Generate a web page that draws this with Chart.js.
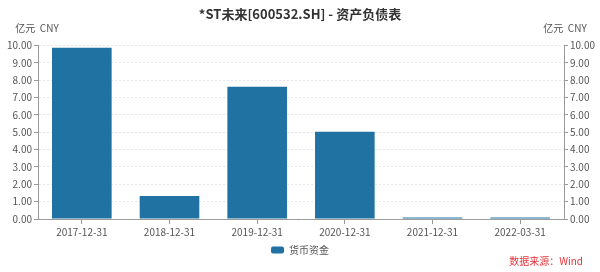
<!DOCTYPE html>
<html>
<head>
<meta charset="utf-8">
<script src="https://cdn.jsdelivr.net/npm/chart.js@4.4.0/dist/chart.umd.min.js"></script>
<style>
  html, body { margin: 0; padding: 0; background: #fff; }
  #wrap { width: 600px; height: 272px; }
</style>
</head>
<body>
<div id="wrap"><canvas id="chart"></canvas></div>
<script>
// data
const categories = ["2017-12-31", "2018-12-31", "2019-12-31", "2020-12-31", "2021-12-31", "2022-03-31"];
const cashValues = [9.88, 1.33, 7.63, 5.03, 0.08, 0.08];
const seriesName = "货币资金";
const yTicks = [0, 1, 2, 3, 4, 5, 6, 7, 8, 9, 10];

const FONT = "'Noto Sans CJK SC', 'Noto Sans', sans-serif";
const barColor = "#1f72a1";
const axisColor = "#9a9a9a";

// unit labels above both axes + data source at the bottom right
const extraText = {
  id: "extraText",
  afterDraw(chart) {
    const ctx = chart.ctx;
    const area = chart.chartArea;
    ctx.save();
    ctx.font = "10px " + FONT;
    ctx.fillStyle = "#555";
    ctx.textBaseline = "middle";
    ctx.textAlign = "center";
    ctx.fillText("亿元  CNY", area.left - 1, area.top - 17);
    ctx.fillText("亿元  CNY", area.right + 1, area.top - 17);
    ctx.fillStyle = "#e8333a";
    ctx.textAlign = "right";
    ctx.fillText("数据来源：Wind", 583, 261);
    ctx.restore();
  }
};

const yAxis = (position, gridOnArea) => ({
  type: "linear",
  position: position,
  min: 0,
  max: 10,
  afterBuildTicks(scale) {
    scale.ticks = yTicks.map(v => ({value: v}));
  },
  afterFit(scale) {
    scale.width = position === "left" ? 38 : 36;
  },
  ticks: {
    color: "#555",
    font: {family: FONT, size: 10},
    padding: 2,
    callback: v => v.toFixed(2)
  },
  grid: {
    drawOnChartArea: gridOnArea,
    color: "#e6e6e6",
    tickColor: axisColor,
    tickLength: 4
  },
  border: {color: axisColor, dash: [2, 2]}
});

new Chart(document.getElementById("chart"), {
  type: "bar",
  data: {
    labels: categories,
    datasets: [{
      label: seriesName,
      data: cashValues,
      backgroundColor: barColor,
      borderWidth: 0,
      categoryPercentage: 0.68,
      barPercentage: 1.0,
      yAxisID: "y"
    }]
  },
  options: {
    responsive: true,
    maintainAspectRatio: false,
    animation: false,
    layout: {padding: {left: 0, right: 0, top: 0, bottom: 7}},
    scales: {
      x: {
        ticks: {color: "#555", font: {family: FONT, size: 10}, padding: 2, maxRotation: 0},
        grid: {offset: false, drawOnChartArea: false, tickColor: axisColor, tickLength: 5},
        border: {color: axisColor}
      },
      y: yAxis("left", true),
      y2: yAxis("right", false)
    },
    plugins: {
      title: {
        display: true,
        text: "*ST未来[600532.SH] - 资产负债表",
        color: "#333",
        font: {family: FONT, size: 13, weight: "bold"},
        padding: {top: 6, bottom: 24}
      },
      legend: {
        position: "bottom",
        labels: {
          color: "#555",
          font: {family: FONT, size: 10},
          boxWidth: 13,
          boxHeight: 7,
          useBorderRadius: true,
          borderRadius: 2,
          padding: 5
        }
      },
      tooltip: {enabled: false}
    }
  },
  plugins: [extraText]
});
</script>
</body>
</html>
